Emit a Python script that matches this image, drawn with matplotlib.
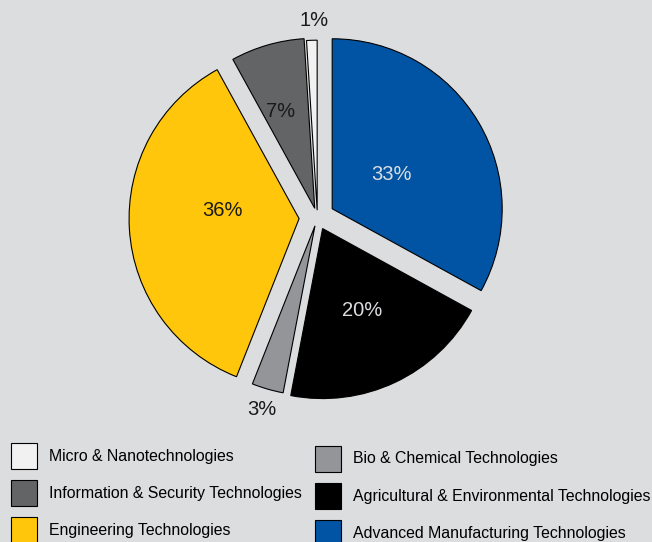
import matplotlib
matplotlib.use('Agg')
import matplotlib.pyplot as plt
from matplotlib.patches import Patch
import numpy as np

# ---- data ----
categories = ["Advanced Manufacturing Technologies",
              "Agricultural & Environmental Technologies",
              "Bio & Chemical Technologies",
              "Engineering Technologies",
              "Information & Security Technologies",
              "Micro & Nanotechnologies"]
values = [33, 20, 3, 36, 7, 1]
legend_col1 = [5, 4, 3]
legend_col2 = [2, 1, 0]

# ---- style ----
colors = ["#0054a3", "#000000", "#939598", "#ffc60b", "#636466", "#f1f1f2"]
label_colors = ["#dcdde0", "#dcdde0", "#1a1a1a", "#1a1a1a", "#1a1a1a", "#1a1a1a"]
explode = [0.101, 0.072, 0.051, 0.108, 0.056, 0.043]
pct_dist = [0.404, 0.532, 1.123, 0.455, 0.606, 1.114]
pct_angle_shift = [-0.7, 0.4, 0.0, -9.5, 3.1, -0.8]

plt.rcParams['font.family'] = ['Liberation Sans', 'DejaVu Sans']
bg = '#dcdddf'
W, H = 652, 542
fig = plt.figure(figsize=(W / 100, H / 100), dpi=100, facecolor=bg)

cx, cy, R = 317.4, 217.5, 170
half = 200
ax = fig.add_axes([(cx - half) / W, (H - cy - half) / H, 2 * half / W, 2 * half / H])
ax.set_facecolor(bg)
wedges, texts, autotexts = ax.pie(values, explode=explode, colors=colors,
                                  startangle=90, counterclock=False,
                                  autopct='%1.0f%%',
                                  wedgeprops=dict(edgecolor='black', linewidth=0.8),
                                  textprops=dict(fontsize=14.5))
L = half / R
ax.set_xlim(-L, L)
ax.set_ylim(-L, L)
ax.set_aspect('auto')
for w, t, d, a, c in zip(wedges, autotexts, pct_dist, pct_angle_shift, label_colors):
    mid = np.deg2rad((w.theta1 + w.theta2) / 2 + a)
    x0, y0 = w.center
    t.set_position((x0 + d * w.r * np.cos(mid), y0 + d * w.r * np.sin(mid)))
    t.set_color(c)
ax.axis('off')

leg_kw = dict(loc='upper left', frameon=False, fontsize=11.4, handlelength=1.64,
              handleheight=2.15, handletextpad=0.78, labelspacing=0.70,
              borderpad=0, borderaxespad=0)
for col, (x0, y0) in ((legend_col1, (11, 443)), (legend_col2, (315, 445.5))):
    handles = [Patch(facecolor=colors[i], edgecolor='black', linewidth=0.8) for i in col]
    labels = [categories[i] for i in col]
    fig.legend(handles, labels, bbox_to_anchor=(x0 / W, 1 - y0 / H), **leg_kw)

fig.savefig('out.png', dpi=100, facecolor=bg)
